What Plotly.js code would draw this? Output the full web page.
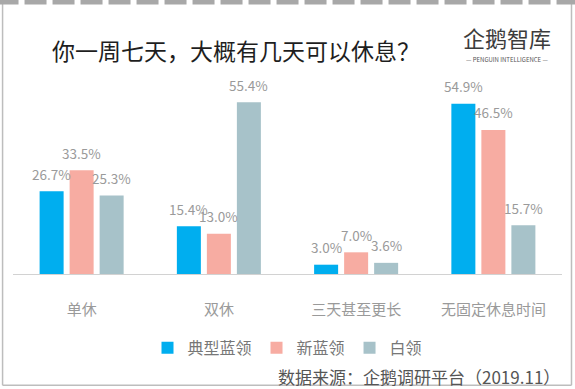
<!DOCTYPE html>
<html>
<head>
<meta charset="utf-8">
<script src="https://cdn.plot.ly/plotly-3.0.1.min.js"></script>
<style>html,body{margin:0;padding:0;background:#fff;}#chart{width:575px;height:389px;}</style>
</head>
<body>
<div id="chart"></div>
<script>
const categories = ['单休', '双休', '三天甚至更长', '无固定休息时间'];
const seriesNames = ['典型蓝领', '新蓝领', '白领'];
const typicalBlue = [26.7, 15.4, 3.0, 54.9];
const newBlue = [33.5, 13.0, 7.0, 46.5];
const whiteCollar = [25.3, 55.4, 3.6, 15.7];
const colors = ['#00aeef', '#f7aca2', '#a7c2c9'];
const titleText = '你一周七天，大概有几天可以休息？';
const sourceText = '数据来源：企鹅调研平台（2019.11）';

const FONT = '"Noto Sans CJK SC", "Noto Sans", sans-serif';
const allSeries = [typicalBlue, newBlue, whiteCollar];

const traces = allSeries.map((vals, i) => ({
  type: 'bar',
  name: seriesNames[i],
  x: categories,
  y: vals,
  marker: {color: colors[i]},
  hoverinfo: 'skip'
}));

const slot = 30; // px per bar slot in a group
const annotations = [];
allSeries.forEach((vals, i) => {
  vals.forEach((v, j) => {
    annotations.push({
      x: categories[j], y: v, xref: 'x', yref: 'y',
      text: v.toFixed(1) + '%',
      showarrow: false,
      xanchor: 'center', yanchor: 'middle',
      xshift: (i - 1) * slot, yshift: 17.5,
      font: {family: FONT, size: 13.5, color: '#9a9a9a'}
    });
  });
});

// logo
annotations.push({
  xref: 'paper', yref: 'paper', x: 0.9, y: 1.222,
  text: '企鹅智库', showarrow: false, xanchor: 'center', yanchor: 'middle',
  font: {family: FONT, size: 22, color: '#3c3c3c'}
});
annotations.push({
  xref: 'paper', yref: 'paper', x: 0.9, y: 1.105,
  text: '— PENGUIN INTELLIGENCE —', showarrow: false, xanchor: 'center', yanchor: 'middle',
  font: {family: FONT, size: 6, color: '#555'}
});
// source
annotations.push({
  xref: 'paper', yref: 'paper', x: 1.0, y: -0.526,
  text: sourceText, showarrow: false, xanchor: 'right', yanchor: 'middle',
  font: {family: FONT, size: 17, color: '#555'}
});

const frame = {color: '#bdbdbd', width: 1.5};
const shapes = [
  {type: 'line', xref: 'paper', yref: 'paper', x0: -0.019, x1: -0.019, y0: 1.42, y1: -0.574, line: frame},
  {type: 'line', xref: 'paper', yref: 'paper', x0: 1.0173, x1: 1.0173, y0: 1.42, y1: -0.574, line: frame},
  {type: 'line', xref: 'paper', yref: 'paper', x0: -0.019, x1: 1.0173, y0: -0.574, y1: -0.574, line: frame},
  {type: 'line', xref: 'paper', yref: 'paper', x0: -0.03, x1: 1.03, y0: 1.402, y1: 1.402,
   line: {color: '#a8a8a8', width: 5, dash: '22px,6px'}}
];

const layout = {
  width: 575, height: 389,
  margin: {l: 13, r: 13, t: 80, b: 115},
  paper_bgcolor: '#fff', plot_bgcolor: '#fff',
  font: {family: FONT},
  title: {
    text: titleText,
    font: {family: FONT, size: 23, color: '#1e1e1e'},
    xref: 'paper', x: 0.406, xanchor: 'center',
    yref: 'container', y: 0.866, yanchor: 'middle'
  },
  barmode: 'group',
  bargap: 0.344,
  bargroupgap: 0.2,
  xaxis: {
    type: 'category',
    range: [-0.5, 3.5],
    showline: true, linecolor: '#d2d2d2', linewidth: 1,
    showgrid: false, zeroline: false,
    ticks: 'outside', ticklen: 22, tickcolor: 'rgba(0,0,0,0)',
    tickfont: {family: FONT, size: 15, color: '#9a9a9a'},
    fixedrange: true
  },
  yaxis: {
    range: [0, 62.6],
    visible: false, showgrid: false, zeroline: false,
    fixedrange: true
  },
  showlegend: true,
  legend: {
    orientation: 'h',
    xref: 'paper', yref: 'paper',
    x: 0.5, xanchor: 'center', y: -0.381, yanchor: 'middle',
    font: {family: FONT, size: 16, color: '#777'},
    itemwidth: 30, traceorder: 'normal',
    bgcolor: 'rgba(0,0,0,0)'
  },
  annotations: annotations,
  shapes: shapes
};

Plotly.newPlot('chart', traces, layout, {displayModeBar: false, staticPlot: true});
</script>
</body>
</html>
